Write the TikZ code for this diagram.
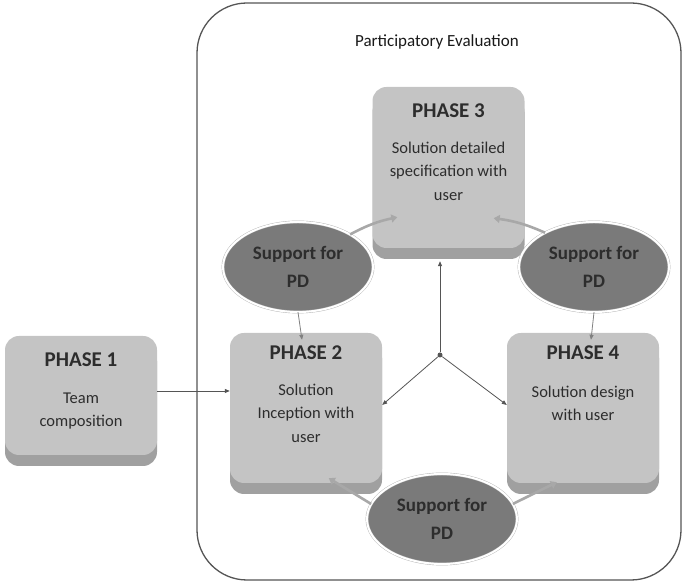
\documentclass[tikz,border=0pt]{standalone}
\usepackage{fontspec}
\setmainfont{Carlito}
\usepackage{tikz}
\usetikzlibrary{arrows.meta, positioning, shapes.geometric, calc, shadows}
\definecolor{boxgray}{RGB}{196,196,196}
\definecolor{boxshade}{RGB}{160,160,160}
\definecolor{ovalgray}{RGB}{122,122,122}
\definecolor{textgray}{RGB}{45,45,45}
\definecolor{linegray}{RGB}{85,85,85}
\definecolor{supportgray}{RGB}{168,168,168}

\tikzset{
  phasebox/.style={fill=boxgray, rounded corners=14pt, minimum width=152pt,
    drop shadow={shadow xshift=0pt, shadow yshift=-11pt, fill=boxshade, opacity=1}},
  phasetext/.style={align=center, inner sep=0pt, text=textgray,
    font=\fontsize{16.5}{23.5}\selectfont},
  supportoval/.style={ellipse, fill=ovalgray, draw=gray!60, double=white,
    double distance=2pt, minimum width=150pt, minimum height=90pt, align=center,
    text=textgray, font=\bfseries\fontsize{19}{28}\selectfont},
  flow/.style={draw=linegray, line width=0.8pt, -{Triangle[length=5pt,width=4pt]}},
  supportarrow/.style={draw=supportgray, line width=2.6pt,
    -{Triangle[length=6pt,width=8pt]}},
}
\newcommand{\phasetitle}[1]{{\bfseries\fontsize{21}{25}\selectfont PHASE #1}}

\begin{document}
\begin{tikzpicture}[x=1pt, y=1pt]
  \useasboundingbox (0,0) rectangle (685,585);

  % Frame
  \node[draw=linegray, line width=1.3pt, rounded corners=50pt,
        minimum width=484pt, minimum height=577pt] (frame) at (439,293.5) {};
  \node[font=\fontsize{17}{20}\selectfont, text=black!90] (title) at (437,543)
    {Participatory Evaluation};

  % Phases
  \node[phasebox, minimum height=119pt] (p1) at (81,189.5) {};
  \node[phasebox, minimum height=150pt] (p2) at (306,177) {};
  \node[phasebox, minimum height=161pt] (p3) at (448.5,417.5) {};
  \node[phasebox, minimum height=150pt] (p4) at (583,177) {};

  \node[phasetext, below=17pt of p1.north] (t1) {\phasetitle{1}\\[13pt] Team\\ composition};
  \node[phasetext, below=13pt of p2.north] (t2) {\phasetitle{2}\\[12pt] Solution\\ Inception with\\ user};
  \node[phasetext, below=17pt of p3.north] (t3) {\phasetitle{3}\\[12pt] Solution detailed\\ specification with\\ user};
  \node[phasetext, below=13pt of p4.north] (t4) {\phasetitle{4}\\[14pt] Solution design\\ with user};

  % Support for PD
  \foreach \n/\pos in {s1/{298,318}, s2/{594,318}, s3/{442,66}}
    \node[supportoval] (\n) at (\pos) {Support for\\PD};

  % Flow
  \node[circle, fill=linegray, inner sep=0pt, minimum size=5pt] (hub) at (440,230) {};
  \draw[flow] ([yshift=4.5pt]p1.east) -- ([yshift=4.5pt]p1.east -| p2.west);
  \draw[flow] (hub) -- ($(hub |- p3.south)+(0,-13)$);
  \draw[flow] (hub) -- ([yshift=3pt]p2.east);
  \draw[flow] (hub) -- ([yshift=3pt]p4.west);
  \draw[flow, draw=gray] (s1.south) -- ($(p2.north)+(-4,-7)$);
  \draw[flow, draw=gray] (s2.south) -- ($(p4.north)+(8,-7)$);

  \draw[supportarrow] (s1.32) to[bend left=8] ($(p3.south west)+(25,31)$);
  \draw[supportarrow] (s2.145) to[bend right=8] ($(p3.south east)+(-31,30)$);
  \draw[supportarrow] (s3.168) -- ($(p2.south west)+(99,5)$);
  \draw[supportarrow] (s3.12) -- ($(p4.south west)+(50,1)$);
\end{tikzpicture}
\end{document}
